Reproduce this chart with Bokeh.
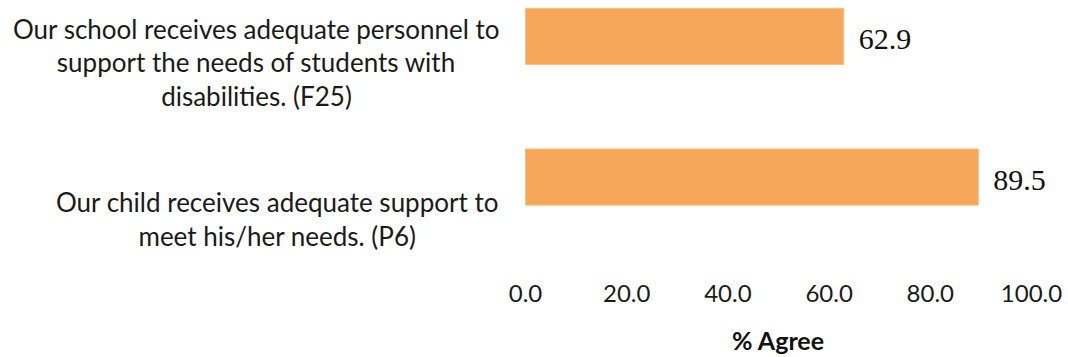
from bokeh.plotting import figure
from bokeh.layouts import column
from bokeh.models import Range1d, ColumnDataSource, FixedTicker, NumeralTickFormatter
from bokeh.embed import file_html
from bokeh.resources import INLINE
from bokeh.core.properties import value

statements = [
    "Our school receives adequate personnel to\nsupport the needs of students with\ndisabilities. (F25)",
    "Our child receives adequate support to\nmeet his/her needs. (P6)",
]
agree = [62.9, 89.5]
x_ticks = [0, 20, 40, 60, 80, 100]
axis_title = "% Agree"

n = len(statements)
ypos = [n - 1 - i for i in range(n)]
labels_txt = [f"{v:.1f}" for v in agree]

src = ColumnDataSource(dict(y=ypos, v=agree, t=labels_txt))

# frame covers the full width; 0 -> 525px, 100 -> 1031px
px_per_unit = 5.06
x_start = -525 / px_per_unit
x_end = (1068 - 525) / px_per_unit
xr = Range1d(x_start, x_end)

p = figure(width=1068, height=310, output_backend="svg", toolbar_location=None,
           x_range=xr, y_range=Range1d(-0.594, 1.256),
           min_border_left=0, min_border_right=0, min_border_top=0, min_border_bottom=50)
p.outline_line_color = None
p.xgrid.visible = False
p.ygrid.visible = False
p.yaxis.visible = False

p.hbar(y="y", right="v", left=0, height=0.4, source=src,
       fill_color="#F7A759", line_color="#F9BE85", line_width=1)

p.text(x="v", y="y", text="t", source=src, x_offset=15, y_offset=3,
       text_font=value("Liberation Serif"), text_font_size="30px",
       text_baseline="middle", text_align="left", text_color="#111111")

ax = p.xaxis[0]
ax.ticker = FixedTicker(ticks=x_ticks)
ax.formatter = NumeralTickFormatter(format="0.0")
ax.axis_line_color = None
ax.major_tick_line_color = None
ax.minor_tick_line_color = None
ax.major_label_text_font = "Lato"
ax.major_label_text_font_size = "24px"
ax.major_label_text_color = "#1a1a1a"
ax.major_label_standoff = 18

lab_src = ColumnDataSource(dict(x=[0] * n, y=ypos, t=statements,
                                xo=[-269, -248], yo=[26, 42]))
p.text(x="x", y="y", text="t", source=lab_src, x_offset="xo", y_offset="yo",
       text_align="center", text_baseline="middle",
       text_font=value("Lato"), text_font_size="26px", text_line_height=1.05,
       text_color="#1a1a1a")

# axis title strip below, sharing the x range so it centres on the 0-100 axis
p2 = figure(width=1068, height=47, output_backend="svg", toolbar_location=None,
            x_range=xr, y_range=Range1d(0, 1), min_border=0)
p2.outline_line_color = None
p2.axis.visible = False
p2.grid.visible = False
p2.text(x=[(x_ticks[0] + x_ticks[-1]) / 2], y=[0.5], text=[axis_title], y_offset=6,
        text_align="center", text_baseline="middle",
        text_font=value("Lato"), text_font_size="25px", text_font_style="bold",
        text_color="#111111")

layout = column(p, p2, spacing=0)
open("out.html", "w").write(file_html(layout, INLINE))
